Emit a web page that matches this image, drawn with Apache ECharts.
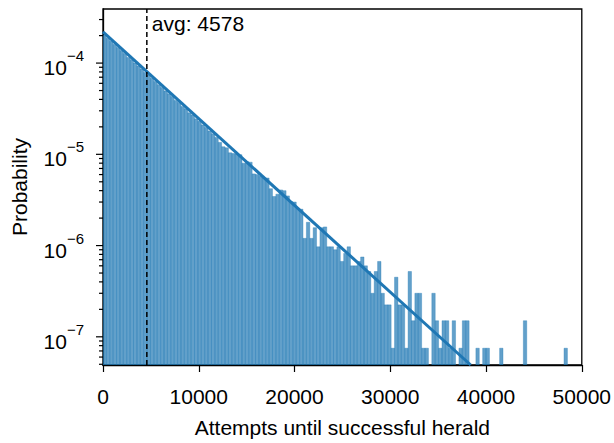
<!DOCTYPE html>
<html>
<head>
<meta charset="utf-8">
<script src="https://cdn.jsdelivr.net/npm/echarts@6/dist/echarts.min.js"></script>
<style>
  html, body { margin: 0; padding: 0; background: #fff; }
  #chart { width: 614px; height: 443px; }
</style>
</head>
<body>
<div id="chart"></div>
<script>
// histogram: bins start at 0, fixed width
const BIN_WIDTH = 354;
const probs = [
  2.02e-4, 1.87e-4, 1.73e-4, 1.60e-4, 1.48e-4, 1.37e-4, 1.27e-4, 1.15e-4, 1.09e-4, 1.00e-4,
  9.3e-5, 8.6e-5, 7.9e-5, 7.4e-5, 6.8e-5, 6.3e-5, 5.8e-5, 5.4e-5, 4.95e-5, 4.6e-5,
  4.3e-5, 3.9e-5, 3.7e-5, 3.35e-5, 3.15e-5, 2.85e-5, 2.7e-5, 2.45e-5, 2.3e-5, 2.1e-5,
  1.97e-5, 1.8e-5, 1.68e-5, 1.53e-5, 1.35e-5, 1.21e-5, 1.18e-5, 1.04e-5, 1.02e-5, 1.01e-5,
  9.9e-6, 8.0e-6, 8.3e-6, 8.2e-6, 6.1e-6, 6.0e-6, 5.75e-6, 5.5e-6, 5.5e-6, 4.2e-6,
  3.45e-6, 3.66e-6, 4.07e-6, 4.0e-6, 3.5e-6, 3.03e-6, 3.0e-6, 2.55e-6, 2.5e-6, 1.2e-6,
  1.8e-6, 1.2e-6, 1.57e-6, 9.7e-7, 1.57e-6, 1.6e-6, 9.7e-7, 9.7e-7, 9.0e-7, 9.7e-7,
  6.7e-7, 8.2e-7, 9.7e-7, 6.0e-7, 6.0e-7, 6.7e-7, 7.5e-7, 6.0e-7, 5.2e-7, 3.0e-7,
  5.2e-7, 6.7e-7, 3.0e-7, 2.24e-7, 2.24e-7, 7.5e-8, 4.5e-7, 2.24e-7, 2.24e-7, 7.5e-8,
  5.2e-7, 1.5e-7, 3.0e-7, 3.0e-7, 7.5e-8, 7.5e-8, 0, 3.0e-7, 1.5e-7, 7.5e-8,
  1.5e-7, 1.5e-7, 7.5e-8, 1.5e-7, 0, 7.5e-8, 1.5e-7, 1.5e-7, 0, 0,
  7.5e-8, 0, 7.5e-8, 7.5e-8, 0, 0, 0, 7.5e-8, 0, 0,
  0, 0, 0, 0, 1.5e-7, 0, 0, 0, 0, 0,
  0, 0, 0, 0, 0, 0, 7.5e-8
];
// exponential fit, straight on log axis: two end points
const fitX = [0, 38400];
const fitY = [2.2e-4, 4.91e-8];
const AVG = 4578;
const xTicks = [0, 10000, 20000, 30000, 40000, 50000];
const yMajor = [1e-7, 1e-6, 1e-5, 1e-4];
const Y_MIN = 4.91e-8, Y_MAX = 3.915e-4;

const FONT = '"Liberation Sans", Arial, sans-serif';
const BAR_COLOR = 'rgba(31,119,180,0.7)';

let yMinor = [];
for (let e = -8; e <= -4; e++) {
  for (let m = 2; m <= 9; m++) {
    const v = m * Math.pow(10, e);
    if (v > Y_MIN && v < Y_MAX) yMinor.push(v);
  }
}

const barData = [];
probs.forEach((p, i) => {
  if (p > 0) barData.push([i * BIN_WIDTH, p]);
});

const myChart = echarts.init(document.getElementById('chart'), null, { renderer: 'svg' });

function tickItem(len) {
  return function (params, api) {
    const p = api.coord([0, api.value(0)]);
    return {
      type: 'line',
      shape: { x1: p[0] - len, y1: p[1], x2: p[0], y2: p[1] },
      style: { stroke: '#000', lineWidth: 1.2 }
    };
  };
}

myChart.setOption({
  animation: false,
  grid: { left: 103, right: 31, top: 9, bottom: 70, show: true, borderColor: '#000', borderWidth: 1.3 },
  xAxis: {
    type: 'value',
    min: 0, max: 50000, interval: 10000,
    name: 'Attempts until successful herald',
    nameLocation: 'middle', nameGap: 52,
    nameTextStyle: { fontSize: 21, color: '#000', fontFamily: FONT },
    axisLine: { show: true, lineStyle: { color: '#000', width: 1.3 } },
    axisTick: { show: true, length: 7, lineStyle: { color: '#000', width: 1.2 } },
    axisLabel: { fontSize: 21, color: '#000', fontFamily: FONT, margin: 21,
      formatter: v => xTicks.includes(v) ? String(v) : '' },
    splitLine: { show: false }
  },
  yAxis: {
    type: 'log', logBase: 10,
    min: Y_MIN, max: Y_MAX,
    name: 'Probability',
    nameLocation: 'middle', nameGap: 73,
    nameTextStyle: { fontSize: 21, color: '#000', fontFamily: FONT },
    axisLine: { show: true, lineStyle: { color: '#000', width: 1.3 } },
    axisTick: { show: false },
    splitLine: { show: false },
    axisLabel: {
      margin: 19, color: '#000', fontFamily: FONT, fontSize: 21,
      showMinLabel: false, showMaxLabel: false,
      formatter: function (v) {
        const lg = Math.log10(v);
        const e = Math.round(lg);
        if (Math.abs(lg - e) > 1e-6 || !yMajor.some(t => Math.abs(Math.log10(t) - e) < 1e-6)) return '';
        return '{b|10}{sup|\u2212' + (-e) + '}';
      },
      rich: {
        b: { fontSize: 21, fontFamily: FONT, color: '#000', verticalAlign: 'bottom', padding: [9, 0, 0, 0] },
        sup: { fontSize: 15, fontFamily: FONT, color: '#000', verticalAlign: 'top' }
      }
    }
  },
  series: [
    {
      name: 'hist',
      type: 'custom',
      clip: true,
      renderItem: function (params, api) {
        const x0 = api.value(0);
        const v = api.value(1);
        const a = api.coord([x0, v]);
        const b = api.coord([x0 + BIN_WIDTH, Y_MIN]);
        const rect = echarts.graphic.clipRectByRect(
          { x: a[0], y: a[1], width: b[0] - a[0], height: b[1] - a[1] },
          { x: params.coordSys.x, y: params.coordSys.y, width: params.coordSys.width, height: params.coordSys.height }
        );
        if (!rect) return null;
        return {
          type: 'rect',
          shape: rect,
          style: { fill: BAR_COLOR, stroke: BAR_COLOR, lineWidth: 0.5 }
        };
      },
      encode: { x: 0, y: 1 },
      data: barData,
      z: 2
    },
    {
      name: 'fit',
      type: 'line',
      data: fitX.map((x, i) => [x, fitY[i]]),
      showSymbol: false,
      lineStyle: { color: '#1f77b4', width: 3 },
      clip: true,
      z: 3
    },
    {
      name: 'avg',
      type: 'custom',
      renderItem: function (params, api) {
        const a = api.coord([api.value(0), Y_MIN]);
        const b = api.coord([api.value(0), Y_MAX]);
        return {
          type: 'group',
          children: [
            {
              type: 'line',
              shape: { x1: a[0], y1: a[1], x2: b[0], y2: b[1] },
              style: { stroke: '#000', lineWidth: 1.5, lineDash: [5, 3] }
            },
            {
              type: 'text',
              x: b[0] + 5, y: b[1] + 14,
              style: { text: 'avg: ' + api.value(0), fontSize: 21, fontFamily: FONT, fill: '#000', verticalAlign: 'middle', align: 'left' }
            }
          ]
        };
      },
      data: [[AVG]],
      encode: { x: 0 },
      z: 5
    },
    {
      name: 'yMajorTicks',
      type: 'custom',
      renderItem: tickItem(7),
      data: yMajor.map(v => [v]),
      encode: { y: 0 },
      z: 6
    },
    {
      name: 'yMinorTicks',
      type: 'custom',
      renderItem: tickItem(4),
      data: yMinor.map(v => [v]),
      encode: { y: 0 },
      z: 6
    }
  ]
});

window.addEventListener('resize', () => {
  myChart.resize();
});
</script>
</body>
</html>
